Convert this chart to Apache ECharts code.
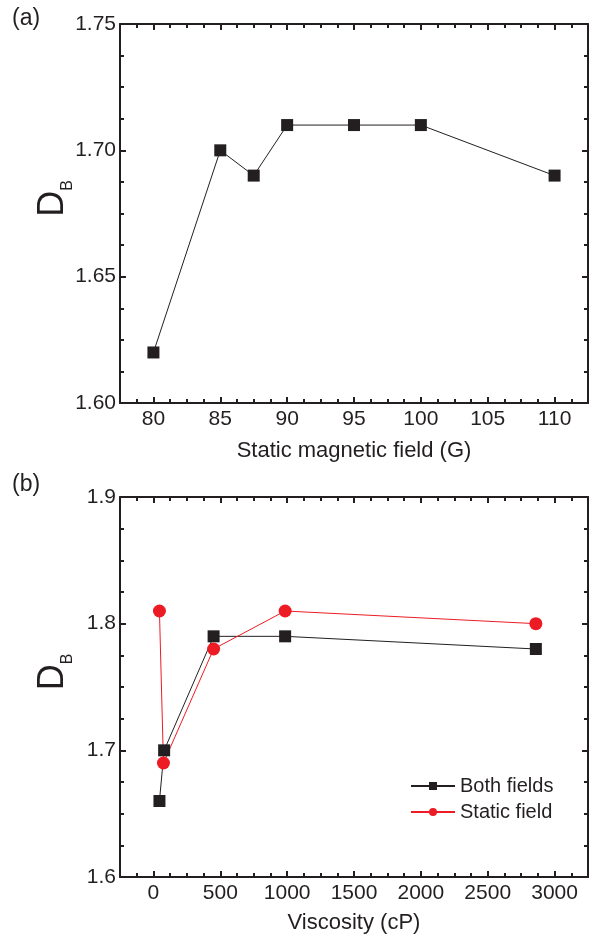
<!DOCTYPE html>
<html>
<head>
<meta charset="utf-8">
<script src="https://cdn.jsdelivr.net/npm/echarts@6/dist/echarts.min.js"></script>
<style>
  html, body { margin: 0; padding: 0; background: #fff; }
  #main { width: 596px; height: 937px; }
</style>
</head>
<body>
<div id="main"></div>
<script>
// panel (a): D_B against static magnetic field
const fieldG = [80, 85, 87.5, 90, 95, 100, 110];
const dbField = [1.62, 1.70, 1.69, 1.71, 1.71, 1.71, 1.69];
const fieldTicks = [80, 85, 90, 95, 100, 105, 110];

// panel (b): D_B against viscosity
const viscBoth = [45, 80, 450, 985, 2860];
const dbBoth = [1.66, 1.70, 1.79, 1.79, 1.78];
const viscStatic = [45, 75, 450, 985, 2860];
const dbStatic = [1.81, 1.69, 1.78, 1.81, 1.80];
const viscTicks = [0, 500, 1000, 1500, 2000, 2500, 3000];

const ink = '#231f20';
const red = '#ed1c24';
const font = 'Liberation Sans, Arial, sans-serif';

// minor ticks: quarter steps between the labelled ticks, inside the axis range
function minorTicks(major, lo, hi) {
  const step = (major[1] - major[0]) / 4;
  const out = [];
  for (let v = major[0] - step; v > lo; v -= step) out.push(v);
  for (let i = 0; i < major.length; i++) {
    for (let k = 1; k < 4; k++) {
      const v = major[i] + k * step;
      if (v < hi) out.push(v);
    }
  }
  return out;
}

function xAxes(grid, min, max, ticks, name, nameGap) {
  const minor = minorTicks(ticks, min, max);
  const base = { gridIndex: grid, type: 'value', min: min, max: max, splitLine: { show: false } };
  return [
    Object.assign({}, base, {
      position: 'bottom',
      name: name, nameLocation: 'middle', nameGap: nameGap, nameMoveOverlap: false,
      nameTextStyle: { fontSize: 22, color: ink, fontFamily: font },
      axisLine: { show: true, onZero: false, lineStyle: { color: ink, width: 2 } },
      axisTick: { inside: true, length: 6, customValues: ticks, lineStyle: { color: ink, width: 2 } },
      axisLabel: { customValues: ticks, margin: 6, fontSize: 21, color: ink, fontFamily: font, formatter: v => String(v) }
    }),
    Object.assign({}, base, {
      position: 'bottom',
      axisLine: { show: false, onZero: false },
      axisTick: { show: true, inside: true, length: 4, customValues: minor, lineStyle: { color: ink, width: 2 } },
      axisLabel: { show: false }
    }),
    Object.assign({}, base, {
      position: 'top',
      axisLine: { show: true, onZero: false, lineStyle: { color: ink, width: 2 } },
      axisTick: { inside: true, length: 6, customValues: ticks, lineStyle: { color: ink, width: 2 } },
      axisLabel: { show: false }
    }),
    Object.assign({}, base, {
      position: 'top',
      axisLine: { show: false, onZero: false },
      axisTick: { show: true, inside: true, length: 4, customValues: minor, lineStyle: { color: ink, width: 2 } },
      axisLabel: { show: false }
    })
  ];
}

function yAxes(grid, min, max, interval, digits) {
  const base = {
    gridIndex: grid, type: 'value', min: min, max: max, interval: interval,
    splitLine: { show: false },
    axisLine: { show: true, onZero: false, lineStyle: { color: ink, width: 2 } },
    axisTick: { inside: true, length: 6, lineStyle: { color: ink, width: 2 } },
    minorTick: { show: true, splitNumber: 4, length: 4, lineStyle: { color: ink, width: 2 } }
  };
  return [
    Object.assign({}, base, {
      position: 'left',
      name: '{d|D}{b|B}', nameLocation: 'middle', nameGap: 44, nameMoveOverlap: false,
      nameTextStyle: {
        color: ink, fontFamily: font, padding: [0, 0, 0, 30],
        rich: {
          d: { fontSize: 36, color: ink, fontFamily: font, verticalAlign: 'bottom', padding: [0, 0, 5, 0] },
          b: { fontSize: 16, color: ink, fontFamily: font, verticalAlign: 'bottom' }
        }
      },
      axisLabel: { margin: 4, fontSize: 21, color: ink, fontFamily: font, formatter: v => v.toFixed(digits) }
    }),
    Object.assign({}, base, { position: 'right', axisLabel: { show: false } })
  ];
}

const chart = echarts.init(document.getElementById('main'));
chart.setOption({
  backgroundColor: '#fff',
  animation: false,
  grid: [
    { left: 120, top: 24, width: 468, height: 379 },
    { left: 120, top: 497, width: 468, height: 380 }
  ],
  graphic: [
    { type: 'text', left: 12, top: 7, style: { text: '(a)', fontSize: 23, fill: ink, fontFamily: font } },
    { type: 'text', left: 12, top: 473, style: { text: '(b)', fontSize: 23, fill: ink, fontFamily: font } }
  ],
  legend: {
    data: ['Both fields', 'Static field'],
    orient: 'vertical', left: 410, top: 776, padding: 0,
    itemWidth: 44, itemHeight: 10, itemGap: 6,
    textStyle: { fontSize: 20, color: ink, fontFamily: font, lineHeight: 19 }
  },
  xAxis: xAxes(0, 77.5, 112.5, fieldTicks, 'Static magnetic field (G)', 37)
    .concat(xAxes(1, -250, 3250, viscTicks, 'Viscosity (cP)', 35)),
  yAxis: yAxes(0, 1.6, 1.75, 0.05, 2).concat(yAxes(1, 1.6, 1.9, 0.1, 1)),
  series: [
    {
      type: 'line', xAxisIndex: 0, yAxisIndex: 0,
      data: fieldG.map((x, i) => [x, dbField[i]]),
      symbol: 'rect', symbolSize: 12,
      itemStyle: { color: ink }, lineStyle: { color: ink, width: 1 }
    },
    {
      name: 'Both fields', type: 'line', xAxisIndex: 4, yAxisIndex: 2,
      data: viscBoth.map((x, i) => [x, dbBoth[i]]),
      symbol: 'rect', symbolSize: 12,
      itemStyle: { color: ink }, lineStyle: { color: ink, width: 1 }
    },
    {
      name: 'Static field', type: 'line', xAxisIndex: 4, yAxisIndex: 2,
      data: viscStatic.map((x, i) => [x, dbStatic[i]]),
      symbol: 'circle', symbolSize: 13,
      itemStyle: { color: red }, lineStyle: { color: red, width: 1 }
    }
  ]
});
</script>
</body>
</html>
